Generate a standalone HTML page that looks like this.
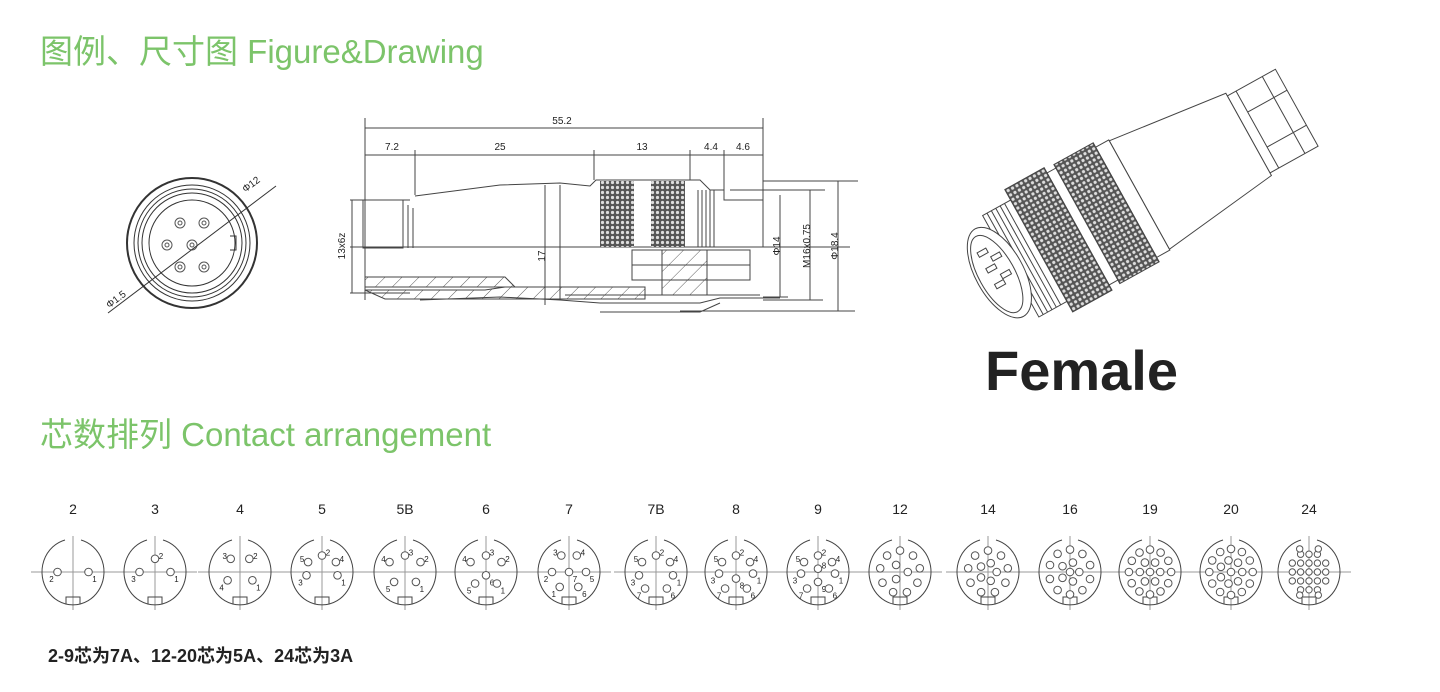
<!DOCTYPE html>
<html><head><meta charset="utf-8"><style>
body{margin:0;background:#fff;width:1440px;height:692px;overflow:hidden;position:relative;font-family:"Liberation Sans","Noto Sans CJK SC",sans-serif}
.h{position:absolute;color:#7cc46a;font-size:33px;left:40px;white-space:nowrap}
</style></head><body>
<div class="h" style="top:25px">图例、尺寸图 Figure&amp;Drawing</div>
<div class="h" style="top:408px">芯数排列 Contact arrangement</div>
<div style="position:absolute;left:985px;top:338px;font-size:56px;font-weight:bold;color:#222">Female</div>
<div style="position:absolute;left:48px;top:642px;font-size:18px;font-weight:bold;color:#222">2-9芯为7A、12-20芯为5A、24芯为3A</div>
<svg id="s" width="1440" height="692" style="position:absolute;left:0;top:0" xmlns="http://www.w3.org/2000/svg">
<defs>
<pattern id="kn" width="5" height="5" patternUnits="userSpaceOnUse"><rect width="5" height="5" fill="#555"/><circle cx="2.5" cy="2.5" r="1.6" fill="#ddd"/></pattern>
<pattern id="hat" width="12" height="12" patternUnits="userSpaceOnUse" patternTransform="rotate(45)"><line x1="0" y1="0" x2="0" y2="12" stroke="#333" stroke-width="0.8"/></pattern>
</defs>
<g fill="none" stroke="#333" stroke-width="1">
<circle cx="192" cy="243" r="65" stroke-width="2"/>
<circle cx="192" cy="243" r="58"/><circle cx="192" cy="243" r="54"/><circle cx="192" cy="243" r="50"/>
<circle cx="192" cy="243" r="43"/>
<g stroke="#555"><circle cx="180" cy="223" r="5"/><circle cx="204" cy="223" r="5"/><circle cx="167" cy="245" r="5"/><circle cx="192" cy="245" r="5"/><circle cx="180" cy="267" r="5"/><circle cx="204" cy="267" r="5"/>
<circle cx="180" cy="223" r="2"/><circle cx="204" cy="223" r="2"/><circle cx="167" cy="245" r="2"/><circle cx="192" cy="245" r="2"/><circle cx="180" cy="267" r="2"/><circle cx="204" cy="267" r="2"/></g>
<path d="M230 236 h6 v14 h-6"/>
<line x1="108" y1="313" x2="276" y2="186"/>
<g stroke="#444">
<line x1="365" y1="118" x2="365" y2="300"/><line x1="763" y1="118" x2="763" y2="210"/>
<line x1="365" y1="128" x2="763" y2="128"/>
<line x1="365" y1="155" x2="763" y2="155"/>
<line x1="415" y1="150" x2="415" y2="195"/><line x1="594" y1="150" x2="594" y2="180"/><line x1="690" y1="150" x2="690" y2="180"/><line x1="724" y1="150" x2="724" y2="190"/>
<path d="M350 200 h60 M350 293 h60 M352 200 v93"/>
<path d="M363 200 h40 v48 h-40 z M403 203 v45 M408 205 v43 M413 208 v40"/>
<path d="M415 196 L500 185 L560 183 L590 186 L596 180 L700 180 L710 190 L724 190 L724 200 L763 200 L763 247"/>
<line x1="350" y1="247" x2="850" y2="247"/>
<rect x="600" y="181" width="34" height="66" fill="url(#kn)" stroke="none"/>
<rect x="651" y="181" width="34" height="66" fill="url(#kn)" stroke="none"/>
<path d="M698 190 v57 M702 190 v57 M706 190 v57 M710 190 v57 M714 190 v57"/>
<line x1="545" y1="185" x2="545" y2="305"/><line x1="560" y1="185" x2="560" y2="300"/>
<path d="M365 277 h140 l10 10 h-150 z" fill="url(#hat)"/>
<path d="M365 290 h120 l20 -3 l140 0 v12 h-140 l-120 0 z" fill="url(#hat)"/>
<path d="M420 300 L500 297 L560 300 L600 303 L700 303 L720 298 L780 298 M600 312 L700 312 L720 303"/>
<rect x="632" y="250" width="118" height="30"/><line x1="632" y1="265" x2="750" y2="265"/>
<rect x="662" y="250" width="45" height="45" fill="url(#hat)"/>
<line x1="565" y1="295" x2="760" y2="295"/>
<line x1="780" y1="195" x2="780" y2="297"/><line x1="810" y1="190" x2="810" y2="300"/><line x1="838" y1="181" x2="838" y2="311"/>
<path d="M763 181 h95 M763 297 h25 M730 190 h95 M763 300 h60 M680 311 h175"/>
</g>
</g>
<g font-family="Liberation Sans" font-size="10" fill="#222" text-anchor="middle">
<text x="562" y="124">55.2</text><text x="392" y="150">7.2</text><text x="500" y="150">25</text><text x="642" y="150">13</text><text x="711" y="150">4.4</text><text x="743" y="150">4.6</text>
<text transform="translate(345,246) rotate(-90)">13x6z</text><text transform="translate(545,256) rotate(-90)">17</text>
<text transform="translate(780,246) rotate(-90)">Φ14</text><text transform="translate(810,246) rotate(-90)">M16x0.75</text><text transform="translate(838,246) rotate(-90)">Φ18.4</text>
<text transform="translate(253,187) rotate(-37)">Φ12</text><text transform="translate(118,302) rotate(-37)">Φ1.5</text>
</g>
<g transform="translate(995,275) rotate(-29)" fill="#fff" stroke="#444" stroke-width="1">
<path d="M290 -44 L345 -44 L345 44 L290 44 Z"/><path d="M300 -44 v88 M330 -44 v88 M300 -20 h45 M300 20 h45"/>
<path d="M165 -62 L290 -47 L290 47 L165 62 Z"/>
<path d="M150 -63 h15 v126 h-15 z"/>
<path d="M105 -68 h45 v136 h-45 z" fill="url(#kn)"/>
<path d="M95 -64 h10 v128 h-10 z"/>
<path d="M50 -70 h45 v140 h-45 z" fill="url(#kn)"/>
<path d="M18 -58 h32 v116 h-32 z"/>
<path d="M23 -58 v116 M28 -58 v116 M33 -58 v116 M38 -58 v116 M43 -58 v116"/>
<ellipse cx="5" cy="0" rx="24" ry="50"/>
<ellipse cx="2" cy="0" rx="18" ry="43"/>
<g fill="#fff"><rect x="-5" y="-28" width="10" height="5"/><rect x="-5" y="-10" width="10" height="5"/><rect x="-5" y="8" width="10" height="5"/><rect x="5" y="-18" width="10" height="5"/><rect x="5" y="2" width="10" height="5"/></g>
</g>
<g id="contacts"></g>
</svg>
<script>
var cx=[73,155,240,322,405,486,569,656,736,818,900,988,1070,1150,1231,1309];
var lab=["2","3","4","5","5B","6","7","7B","8","9","12","14","16","19","20","24"];
var P={
"2":[[-.5,0,"2"],[.5,0,"1"]],
"3":[[0,-.4,"2"],[-.5,0,"3"],[.5,0,"1"]],
"4":[[-.3,-.4,"3"],[.3,-.4,"2"],[-.4,.25,"4"],[.4,.25,"1"]],
"5":[[0,-.5,"2"],[-.45,-.3,"5"],[.45,-.3,"4"],[-.5,.1,"3"],[.5,.1,"1"]],
"5B":[[0,-.5,"3"],[-.5,-.3,"4"],[.5,-.3,"2"],[-.35,.3,"5"],[.35,.3,"1"]],
"6":[[0,-.5,"3"],[-.5,-.3,"4"],[.5,-.3,"2"],[0,.1,"6"],[-.35,.35,"5"],[.35,.35,"1"]],
"7":[[-.25,-.5,"3"],[.25,-.5,"4"],[-.55,0,"2"],[0,0,"7"],[.55,0,"5"],[-.3,.45,"1"],[.3,.45,"6"]],
"7B":[[0,-.5,"2"],[-.45,-.3,"5"],[.45,-.3,"4"],[-.55,.1,"3"],[.55,.1,"1"],[-.35,.5,"7"],[.35,.5,"6"]],
"8":[[0,-.5,"2"],[-.45,-.3,"5"],[.45,-.3,"4"],[-.55,.05,"3"],[.55,.05,"1"],[0,.2,"8"],[-.35,.5,"7"],[.35,.5,"6"]],
"9":[[0,-.5,"2"],[-.45,-.3,"5"],[.45,-.3,"4"],[-.55,.05,"3"],[.55,.05,"1"],[0,-.1,"8"],[0,.3,"9"],[-.35,.5,"7"],[.35,.5,"6"]]
};
function ring(n,r,off){var a=[];for(var i=0;i<n;i++){var t=2*Math.PI*i/n+(off||0);a.push([r*Math.cos(t),r*Math.sin(t),""]);}return a;}
P["12"]=ring(9,.65,-1.57).concat(ring(3,.25,0));
P["14"]=ring(9,.65,-1.57).concat(ring(5,.28,0));
P["16"]=ring(10,.68,-1.57).concat(ring(5,.3,0)).concat([[0,0,""]]);
P["19"]=ring(12,.68,-1.57).concat(ring(6,.33,0)).concat([[0,0,""]]);
P["20"]=ring(12,.7,-1.57).concat(ring(7,.36,0)).concat([[0,0,""]]);
var a=[];for(var i=-2;i<=2;i++)for(var j=-2;j<=2;j++){if(Math.abs(i)+Math.abs(j)<4)a.push([i*.27,j*.27,""]);}
a=a.concat([[-.3,-.7,""],[.3,-.7,""],[-.3,.7,""],[.3,.7,""]]);P["24"]=a;
var s="",cy=572,rx=31,ry=33;
for(var k=0;k<16;k++){var x=cx[k];
s+='<text x="'+x+'" y="514" font-size="14" text-anchor="middle" fill="#222" font-family="Liberation Sans">'+lab[k]+'</text>';
s+='<line x1="'+(x-42)+'" y1="'+cy+'" x2="'+(x+42)+'" y2="'+cy+'" stroke="#999"/><line x1="'+x+'" y1="'+(cy-36)+'" x2="'+x+'" y2="'+(cy+38)+'" stroke="#999"/>';
s+='<path d="M'+(x-8)+' '+(cy-ry+1)+' A'+rx+' '+ry+' 0 1 0 '+(x+8)+' '+(cy-ry+1)+'" fill="none" stroke="#444"/>';
s+='<path d="M'+(x-7)+' '+(cy+ry-1)+' v-7 h14 v7" fill="none" stroke="#444"/>';
var ps=P[lab[k]],pr=k>14?3.2:3.8;
ps.forEach(function(p){var px=x+p[0]*rx,py=cy+p[1]*ry;
s+='<circle cx="'+px.toFixed(1)+'" cy="'+py.toFixed(1)+'" r="'+pr+'" fill="#fff" stroke="#555"/>';
if(p[2])s+='<text x="'+(px+(p[0]<0?-6:6)).toFixed(1)+'" y="'+(py+(p[1]>=0?10:0)).toFixed(1)+'" font-size="8" text-anchor="middle" fill="#222" font-family="Liberation Sans">'+p[2]+'</text>';});
}
document.getElementById("contacts").innerHTML=s;
</script>
</body></html>
